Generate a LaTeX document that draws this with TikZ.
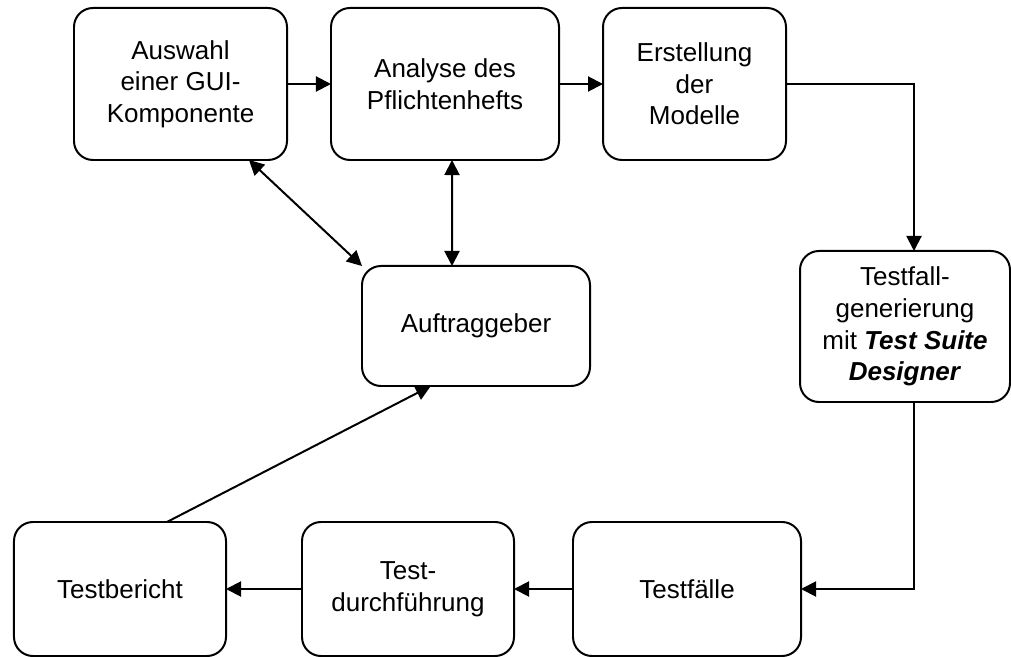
\documentclass[tikz,border=0pt]{standalone}
\usepackage{fontspec}
\setmainfont{Liberation Sans}
\usetikzlibrary{arrows.meta}

\begin{document}
\begin{tikzpicture}[x=0.03cm, y=-0.03cm, line width=1.7pt, >={Triangle[length=0.45cm,width=0.45cm]}, activity/.style={draw=black, rectangle, rounded corners=0.57cm, align=center, inner sep=0pt, outer sep=0pt, font=\fontsize{22.2}{27}\selectfont}]

\useasboundingbox (0,0) rectangle (1011,657);

\node[activity, minimum width=6.39cm, minimum height=4.56cm] (auswahl) at (180.5, 84) {Auswahl\\einer GUI-\\Komponente}; 
\node[activity, minimum width=6.84cm, minimum height=4.56cm] (analyse) at (445, 84) {Analyse des\\Pflichtenhefts}; 
\node[activity, minimum width=5.49cm, minimum height=4.56cm] (erstellung) at (694.5, 84) {Erstellung\\der\\Modelle}; 
\node[activity, minimum width=6.30cm, minimum height=4.53cm] (testfall) at (905, 326.5) {Testfall-\\generierung\\mit \textbf{\textit{Test Suite}}\\\textbf{\textit{Designer}}}; 
\node[activity, minimum width=6.84cm, minimum height=3.60cm] (auftrag) at (476, 326) {Auftraggeber}; 
\node[activity, minimum width=6.36cm, minimum height=4.02cm] (bericht) at (120, 589) {Testbericht}; 
\node[activity, minimum width=6.36cm, minimum height=4.02cm] (durchf) at (408, 589) {Test-\\durchführung}; 
\node[activity, minimum width=6.84cm, minimum height=4.02cm] (faelle) at (687, 589) {Testfälle}; 

\draw [->] (auswahl) -- (analyse); 
\draw [->] (analyse) -- (erstellung); 
\draw [->] (erstellung.east) -| ([xshift=0.27cm]testfall.north); 
\draw [->] ([xshift=0.27cm]testfall.south) |- (faelle.east); 
\draw [->] (faelle) -- (durchf); 
\draw [->] (durchf) -- (bericht); 
\draw [->] (bericht.55.5) -- (auftrag.-127.5); 
\draw [<->] (auswahl.-48.4) -- (auftrag.north west); 
\draw [<->] ([xshift=0.21cm]analyse.south) -- ([xshift=-0.72cm]auftrag.north); 

\end{tikzpicture}
\end{document}
